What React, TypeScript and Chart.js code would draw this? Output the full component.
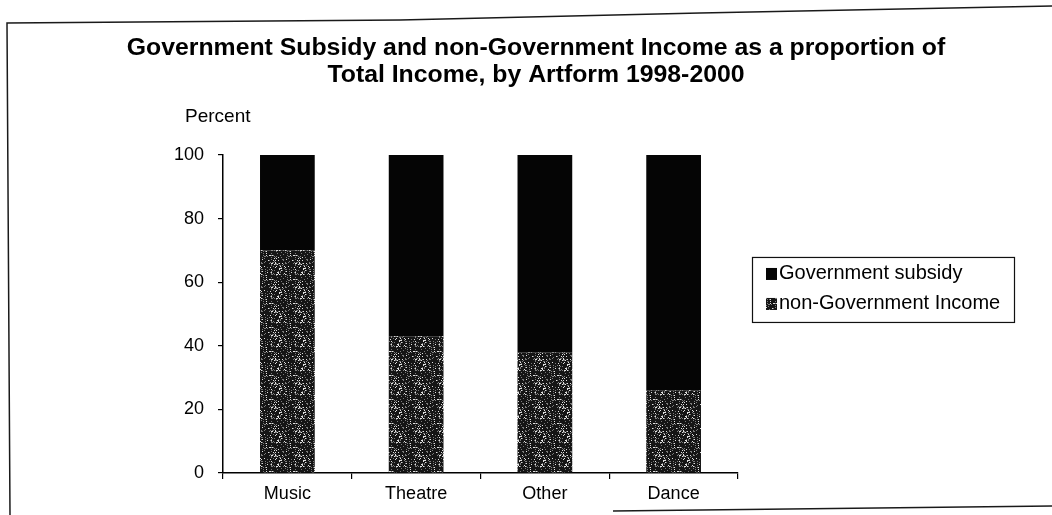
import React, { useEffect, useRef } from "react";
import { Chart, registerables } from "chart.js";

Chart.register(...registerables);

const categories = ["Music", "Theatre", "Other", "Dance"];
const nonGovernmentIncome = [70, 43, 38, 26];
const governmentSubsidy = [30, 57, 62, 74];
const yTicks = [0, 20, 40, 60, 80, 100];
const titleLines = [
  "Government Subsidy and non-Government Income as a proportion of",
  "Total Income, by Artform 1998-2000",
];
const yAxisLabel = "Percent";
const seriesNames = ["Government subsidy", "non-Government Income"];

const FONT = "'Liberation Sans', Arial, Helvetica, sans-serif";

function makeSpecklePattern(): CanvasPattern | string {
  const c = document.createElement("canvas");
  const size = 24;
  c.width = size;
  c.height = size;
  const ctx = c.getContext("2d");
  if (!ctx) return "#333";
  ctx.fillStyle = "#151515";
  ctx.fillRect(0, 0, size, size);
  for (let y = 0; y < size; y++) {
    for (let x = 0; x < size; x++) {
      let h = (Math.imul(x + 1, 374761393) + Math.imul(y + 7, 668265263)) >>> 0;
      h = Math.imul(h ^ (h >>> 13), 1274126177) >>> 0;
      h = (h ^ (h >>> 16)) >>> 0;
      const b = h & 255;
      if (b < 56) {
        ctx.fillStyle = b < 24 ? "#e0e0e0" : "#7a7a7a";
        ctx.fillRect(x, y, 1, 1);
      }
    }
  }
  const p = ctx.createPattern(c, "repeat");
  return p || "#333";
}

export default function App() {
  const ref = useRef<HTMLCanvasElement | null>(null);

  useEffect(() => {
    if (!ref.current) return;
    const speckle = makeSpecklePattern();
    const solid = "#050505";

    const framePlugin = {
      id: "frame",
      afterDraw(chart: any) {
        const ctx = chart.ctx;
        ctx.save();
        ctx.strokeStyle = "#1a1a1a";
        ctx.lineWidth = 1.5;
        ctx.beginPath();
        ctx.moveTo(10, 515);
        ctx.lineTo(7, 23);
        ctx.lineTo(400, 20);
        ctx.lineTo(700, 13);
        ctx.lineTo(1052, 6);
        ctx.stroke();
        ctx.beginPath();
        ctx.moveTo(613, 511);
        ctx.lineTo(1052, 506);
        ctx.stroke();
        ctx.restore();
      },
    };

    const percentPlugin = {
      id: "percentLabel",
      afterDraw(chart: any) {
        const ctx = chart.ctx;
        const a = chart.chartArea;
        ctx.save();
        ctx.fillStyle = "#000";
        ctx.font = `19px ${FONT}`;
        ctx.textAlign = "left";
        ctx.textBaseline = "middle";
        ctx.fillText(yAxisLabel, a.left - 38, a.top - 38);
        ctx.restore();
      },
    };

    const legendPlugin = {
      id: "boxLegend",
      afterDraw(chart: any) {
        const ctx = chart.ctx;
        const a = chart.chartArea;
        const x = a.right + 14;
        const y = a.top + 102;
        const w = 262;
        const h = 65;
        ctx.save();
        ctx.fillStyle = "#fff";
        ctx.fillRect(x, y, w, h);
        ctx.strokeStyle = "#111";
        ctx.lineWidth = 1.2;
        ctx.strokeRect(x + 0.5, y + 0.5, w, h);
        ctx.font = `20px ${FONT}`;
        ctx.textBaseline = "middle";
        ctx.textAlign = "left";
        const order = [1, 0];
        order.forEach((dsIndex, i) => {
          const ds = chart.data.datasets[dsIndex];
          const cy = y + 17 + i * 30;
          ctx.fillStyle = ds.backgroundColor;
          ctx.fillRect(x + 14, cy - 6, 11, 12);
          ctx.fillStyle = "#000";
          ctx.fillText(ds.label, x + 27, cy);
        });
        ctx.restore();
      },
    };

    const chart = new Chart(ref.current, {
      type: "bar",
      data: {
        labels: categories,
        datasets: [
          {
            label: seriesNames[1],
            data: nonGovernmentIncome,
            backgroundColor: speckle as any,
            borderWidth: 0,
            categoryPercentage: 1,
            barPercentage: 0.425,
          },
          {
            label: seriesNames[0],
            data: governmentSubsidy,
            backgroundColor: solid,
            borderWidth: 0,
            categoryPercentage: 1,
            barPercentage: 0.425,
          },
        ],
      },
      options: {
        animation: false,
        responsive: true,
        maintainAspectRatio: false,
        layout: { padding: { left: 20, right: 0, top: 0, bottom: 0 } },
        plugins: {
          legend: { display: false },
          tooltip: { enabled: false },
          title: {
            display: true,
            text: titleLines,
            color: "#000",
            font: { family: FONT, size: 24.8, weight: "bold", lineHeight: 1.09 },
            padding: { top: 34.5, bottom: 66.4 },
          },
        },
        scales: {
          x: {
            stacked: true,
            offset: true,
            grid: {
              display: true,
              drawOnChartArea: false,
              offset: true,
              color: "#000",
              tickLength: 6,
              lineWidth: 1.2,
            },
            border: { display: true, color: "#000", width: 1.5 },
            ticks: { color: "#000", font: { family: FONT, size: 18 }, padding: 4 },
            afterFit: (s: any) => {
              s.height = 42;
            },
          },
          y: {
            stacked: true,
            min: 0,
            max: 100,
            afterBuildTicks: (s: any) => {
              s.ticks = yTicks.map((v) => ({ value: v }));
            },
            grid: {
              display: true,
              drawOnChartArea: false,
              color: "#000",
              tickLength: 5,
              lineWidth: 1.2,
            },
            border: { display: true, color: "#000", width: 1.5 },
            ticks: { color: "#000", font: { family: FONT, size: 18 }, padding: 14 },
            afterFit: (s: any) => {
              s.width = 203;
            },
          },
          y2: {
            type: "linear",
            position: "right",
            display: true,
            grid: { display: false },
            border: { display: false },
            ticks: { display: false },
            afterFit: (s: any) => {
              s.width = 314;
            },
          },
        },
      } as any,
      plugins: [framePlugin, percentPlugin, legendPlugin],
    });

    return () => chart.destroy();
  }, []);

  return (
    <div style={{ position: "absolute", left: 0, top: 0, width: 1052, height: 515 }}>
      <canvas ref={ref} />
    </div>
  );
}
